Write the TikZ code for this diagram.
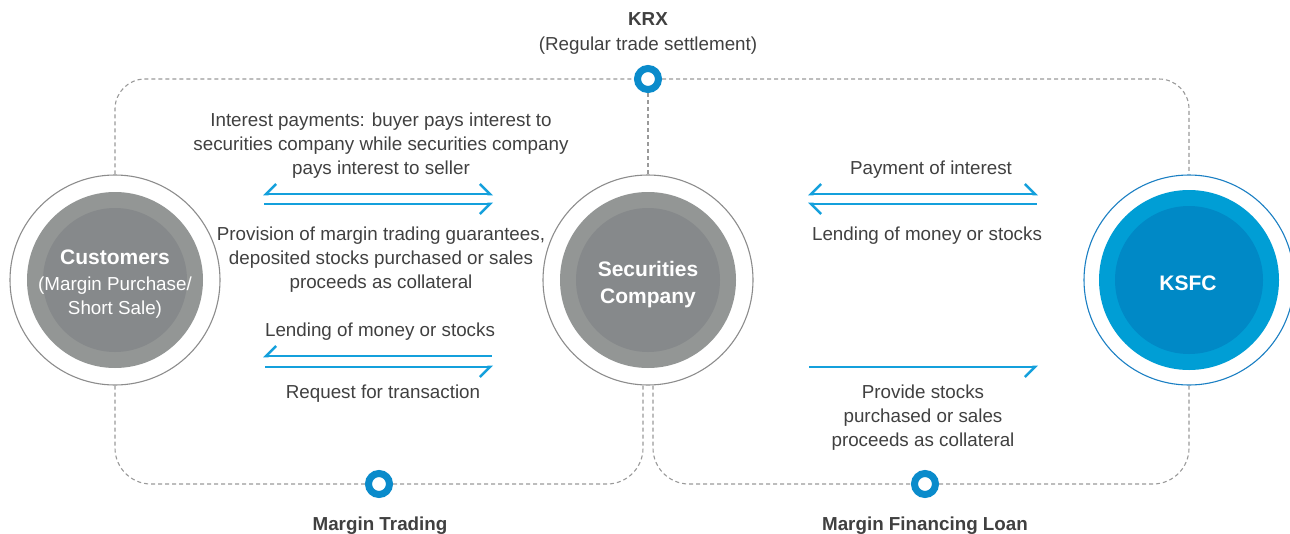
\documentclass[tikz,border=0pt]{standalone}
\usepackage{fontspec}
\setmainfont{Liberation Sans}
\usetikzlibrary{arrows.meta}
\definecolor{txt}{HTML}{404040}
\definecolor{dashgrey}{HTML}{9A9A9A}
\definecolor{ringgrey}{HTML}{8C8C8C}
\definecolor{gout}{HTML}{939695}
\definecolor{gin}{HTML}{86898B}
\definecolor{bout}{HTML}{009ED5}
\definecolor{bin}{HTML}{0089C6}
\definecolor{bring}{HTML}{1A7FC3}
\definecolor{arrowblue}{HTML}{14A0DC}
\definecolor{markblue}{HTML}{0A8BCB}
\begin{document}
\begin{tikzpicture}[x=1pt,y=-1pt,
  dashline/.style={draw=dashgrey, line width=1.1pt, dash pattern=on 4pt off 3pt},
  ringnode/.style={circle, minimum size=210pt, inner sep=0pt, line width=1.1pt, fill=white},
  marker/.style={circle, draw=markblue, fill=white, line width=7pt, minimum size=21pt, inner sep=0pt},
  lbl/.style={text=txt, align=center, font=\fontsize{18.8}{23.6}\selectfont, inner sep=0pt, anchor=base},
  blbl/.style={text=txt, align=center, font=\fontsize{18.8}{23.6}\selectfont\bfseries, inner sep=0pt, anchor=base},
  cname/.style={text=white, align=center, font=\fontsize{21}{27.3}\selectfont\bfseries, inner sep=0pt, anchor=base},
  csub/.style={text=white, align=center, font=\fontsize{18.8}{23.4}\selectfont, inner sep=0pt, anchor=base},
  flow/.style={draw=arrowblue, line width=2.6pt},
  eu/.style={-{Straight Barb[harpoon,length=10pt,width=20pt,line width=2.6pt]}},
  ed/.style={-{Straight Barb[harpoon,swap,length=10pt,width=20pt,line width=2.6pt]}},
  su/.style={{Straight Barb[harpoon,swap,length=10pt,width=20pt,line width=2.6pt]}-},
  sd/.style={{Straight Barb[harpoon,length=10pt,width=20pt,line width=2.6pt]}-},
  bu/.style={{Straight Barb[harpoon,swap,length=10pt,width=20pt,line width=2.6pt]}-{Straight Barb[harpoon,length=10pt,width=20pt,line width=2.6pt]}},
]
\useasboundingbox (0,0) rectangle (1290,533);

% markers
\node[marker] (krxm) at (648,79) {};
\node[marker] (mtm) at (379,484) {};
\node[marker] (mfm) at (925,484) {};

% circles
\node[ringnode, draw=ringgrey] (cust) at (115,280) {};
\fill[gout] (cust.center) circle[radius=88pt];
\fill[gin] (cust.center) circle[radius=72pt];
\node[ringnode, draw=ringgrey] (sec) at (648,280) {};
\fill[gout] (sec.center) circle[radius=88pt];
\fill[gin] (sec.center) circle[radius=72pt];
\node[ringnode, draw=bring] (ksfc) at (1189,280) {};
\fill[bout] (ksfc.center) circle[radius=90pt];
\fill[bin] (ksfc.center) circle[radius=74pt];

% dashed frames
\draw[dashline, rounded corners=30pt] (cust.north) |- (krxm.west);
\draw[dashline, rounded corners=30pt] (krxm.east) -| (ksfc.north);
\draw[dashline] (krxm.south) -- (sec.north);
\draw[dashline, rounded corners=36pt] (cust.south) |- (mtm.west);
\draw[dashline, rounded corners=36pt] (mtm.east) -| ([xshift=-5pt]sec.south);
\draw[dashline, rounded corners=36pt] ([xshift=5pt]sec.south) |- (mfm.west);
\draw[dashline, rounded corners=36pt] (mfm.east) -| (ksfc.south);

% circle texts (base = baseline of the last line)
\node[cname] (custname) at (115,264) {Customers};
\node[csub] (custsub) at (115,314) {(Margin Purchase/\\Short Sale)};
\node[cname] (secname) at (648,303.3) {Securities\\Company};
\node[cname] (ksfcname) at (1188,290) {KSFC};

% arrow end points
\coordinate (a1s) at (263,194); \coordinate (a1e) at (493,194);
\coordinate (a2s) at (264,204); \coordinate (a2e) at (493,204);
\coordinate (a3s) at (263,356); \coordinate (a3e) at (492,356);
\coordinate (a4s) at (265,367); \coordinate (a4e) at (493,367);
\coordinate (b1s) at (808,194); \coordinate (b1e) at (1038,194);
\coordinate (b2s) at (808,204); \coordinate (b2e) at (1037,204);
\coordinate (b3s) at (809,367); \coordinate (b3e) at (1038,367);

\draw[flow, bu] (a1s) -- (a1e);
\draw[flow, ed] (a2s) -- (a2e);
\draw[flow, su] (a3s) -- (a3e);
\draw[flow, ed] (a4s) -- (a4e);
\draw[flow, bu] (b1s) -- (b1e);
\draw[flow, sd] (b2s) -- (b2e);
\draw[flow, ed] (b3s) -- (b3e);

% labels
\node[blbl] (krx) at (648,25) {KRX};
\node[lbl] (krxsub) at (648,50) {(Regular trade settlement)};
\node[lbl] (t1) at (381,174) {Interest payments: buyer pays interest to\\securities company while securities company\\pays interest to seller};
\node[lbl] (t2) at (381,288) {Provision of margin trading guarantees,\\deposited stocks purchased or sales\\proceeds as collateral};
\node[lbl] (t3) at (380,336) {Lending of money or stocks};
\node[lbl] (t4) at (383,398) {Request for transaction};
\node[lbl] (t5) at (931,174) {Payment of interest};
\node[lbl] (t6) at (927,240) {Lending of money or stocks};
\node[lbl] (t7) at (923,446) {Provide stocks\\purchased or sales\\proceeds as collateral};
\node[blbl] (mt) at (380,530) {Margin Trading};
\node[blbl] (mf) at (925,530) {Margin Financing Loan};
\end{tikzpicture}
\end{document}
